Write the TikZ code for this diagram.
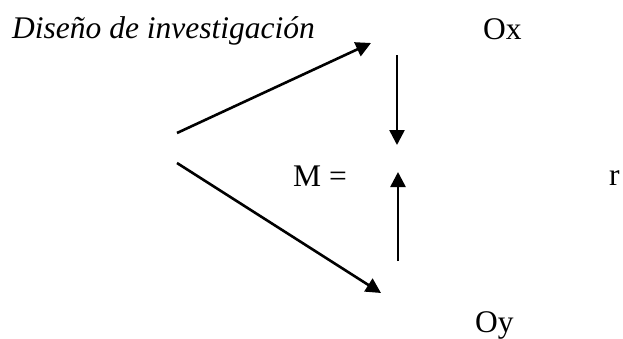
\documentclass[tikz,border=0pt]{standalone}
\usepackage{fontspec}
\setmainfont{Liberation Serif}
\usetikzlibrary{arrows.meta}
\begin{document}
\begin{tikzpicture}[x=1pt,y=-1pt,
  lbl/.style={inner sep=0pt,anchor=base west,font=\fontsize{31.5}{36}\selectfont},
  arr/.style={line width=2.6pt,-{Triangle[length=15pt,width=15pt]}}]
\useasboundingbox[fill=white] (0,0) rectangle (623,338);
\node[lbl,font=\fontsize{31.5}{36}\selectfont\itshape] (title) at (12,38) {Diseño de investigación};
\node[lbl] (ox) at (483,39) {Ox};
\node[lbl] (m) at (293,186) {M =};
\node[lbl] (r) at (609,185) {r};
\node[lbl] (oy) at (475,332) {Oy};
\coordinate (s1) at (177,133);
\coordinate (t1) at (371,43);
\coordinate (s2) at (177,163);
\coordinate (t2) at (381,293);
\coordinate (s3) at (397,55);
\coordinate (t3) at (397,145);
\coordinate (s4) at (398,261);
\coordinate (t4) at (398,172);
\draw[arr] (s1) -- (t1);
\draw[arr] (s2) -- (t2);
\draw[arr] (s3) -- (t3);
\draw[arr] (s4) -- (t4);
\end{tikzpicture}
\end{document}
